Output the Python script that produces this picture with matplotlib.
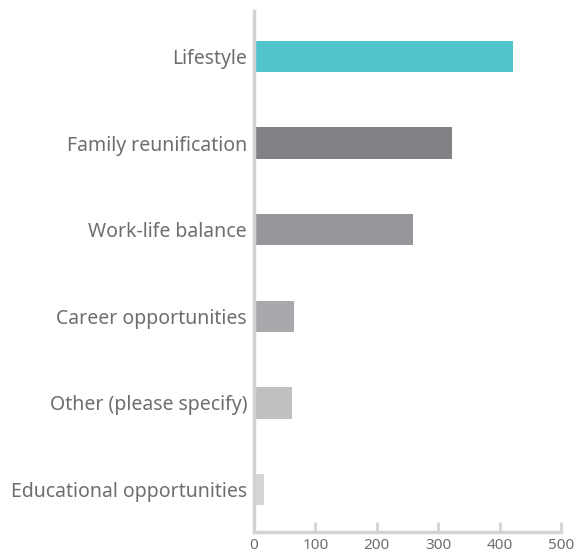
import matplotlib.pyplot as plt

# data (bottom to top)
categories = ['Educational opportunities', 'Other (please specify)', 'Career opportunities',
              'Work-life balance', 'Family reunification', 'Lifestyle']
values = [16, 62, 65, 259, 322, 422]
colors = ['#d4d5d6', '#bfc0c1', '#a8a9ac', '#96979b', '#818285', '#52c4cc']

plt.rcParams['font.family'] = ['Noto Sans', 'DejaVu Sans']

fig = plt.figure(figsize=(5.75, 5.54), dpi=100)
ax = fig.add_axes([254 / 575, 22 / 554, 307 / 575, 521 / 554])

ax.barh(range(len(categories)), values, height=0.36, color=colors)

ax.set_xlim(0, 500)
ax.set_ylim(-0.49, 5.525)
ax.set_xticks([0, 100, 200, 300, 400, 500])
ax.set_yticks(range(len(categories)))
ax.set_yticklabels(categories, fontsize=14, color='#6d6e71', fontweight='light')

for s in ['top', 'right']:
    ax.spines[s].set_visible(False)
ax.spines['left'].set_color('#d3d3d3')
ax.spines['left'].set_linewidth(2.5)
ax.spines['bottom'].set_color('#d3d3d3')
ax.spines['bottom'].set_linewidth(2.5)

ax.tick_params(axis='y', length=0, pad=5)
ax.tick_params(axis='x', direction='in', length=7, width=2, color='#d3d3d3',
               labelsize=11, labelcolor='#6d6e71', pad=4)
for lab in ax.get_xticklabels():
    lab.set_fontweight('light')

fig.savefig('out.png', dpi=100)
